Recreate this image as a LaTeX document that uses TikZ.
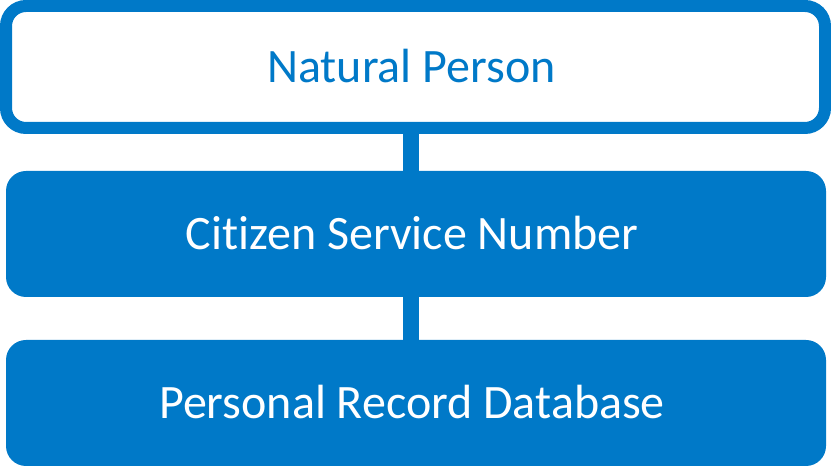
\documentclass[tikz,border=0pt]{standalone}
\usepackage{fontspec}
\setmainfont[Ligatures=NoCommon]{Carlito}
\definecolor{ssblue}{RGB}{0,121,200}
\tikzset{
 layer/.style={rounded corners=20pt,inner sep=0pt,text height=30.4pt,text depth=0pt,font=\fontsize{48}{58}\selectfont,execute at end node={\hspace{8pt}}},
 link/.style={draw=ssblue,line width=16pt}
}
\begin{document}
\begin{tikzpicture}[x=1pt,y=1pt]
\useasboundingbox (0,0) rectangle (831,468);
\node[layer,draw=ssblue,line width=12pt,fill=white,text=ssblue,minimum width=819pt,minimum height=122pt] (person) at(415.5,401){Natural Person};
\node[layer,fill=ssblue,text=white,minimum width=820pt,minimum height=126pt] (bsn) at(416,234){Citizen Service Number};
\node[layer,fill=ssblue,text=white,minimum width=820pt,minimum height=126pt] (brp) at(416,65){Personal Record Database};
\draw[link] ([xshift=-4.5pt]person.south) -- ([xshift=-5pt]bsn.north);
\draw[link] ([xshift=-5pt]bsn.south) -- ([xshift=-5pt]brp.north);
\end{tikzpicture}
\end{document}
